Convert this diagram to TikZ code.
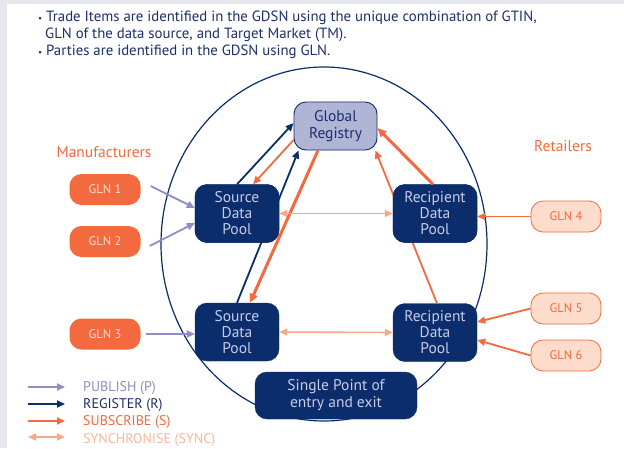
\documentclass[tikz,border=0pt]{standalone}
\usepackage{fontspec}
\setmainfont{PT Sans}
\usetikzlibrary{arrows.meta}
\definecolor{navy}{HTML}{0B2D6B}
\definecolor{navytext}{HTML}{1B2F6B}
\definecolor{pooltext}{HTML}{C8CCE8}
\definecolor{grfill}{HTML}{B0B5D6}
\definecolor{orng}{HTML}{F26A3D}
\definecolor{orngtext}{HTML}{FCE0D5}
\definecolor{salmonfill}{HTML}{FDDCCB}
\definecolor{peri}{HTML}{8C90C2}
\definecolor{sync}{HTML}{F7A888}
\definecolor{synctext}{HTML}{F9B79C}
\definecolor{stripc}{HTML}{E6E6EF}
\tikzset{
  pool/.style={draw=navy, fill=navy, rounded corners=12pt, minimum width=84pt, minimum height=58pt,
    text=pooltext, font=\fontsize{15.5}{16}\selectfont, align=center, inner sep=0pt},
  grbox/.style={draw=navy, line width=0.9pt, fill=grfill, rounded corners=12pt, minimum width=83pt, minimum height=48pt,
    text=navytext, font=\fontsize{15.5}{17}\selectfont, align=center, inner sep=0pt},
  spbox/.style={draw=navy, fill=navy, rounded corners=12pt, minimum width=162pt, minimum height=47pt,
    text=pooltext, font=\fontsize{15.5}{17}\selectfont, align=center, inner sep=0pt},
  glnsrc/.style={fill=orng, rounded corners=12pt, minimum width=71pt, minimum height=31pt,
    text=orngtext, font=\fontsize{12.5}{14}\selectfont, inner sep=0pt},
  glnret/.style={draw=orng, line width=0.8pt, fill=salmonfill, rounded corners=12pt, minimum width=70pt, minimum height=31pt,
    text=orng, font=\fontsize{12.5}{14}\selectfont, inner sep=0pt},
  pub/.style={draw=peri, line width=1.8pt, -{Triangle[length=8pt,width=7pt]}},
  reg/.style={draw=navy, line width=1.8pt, -{Triangle[length=8pt,width=7pt]}},
  sub/.style={draw=orng, line width=1.8pt, -{Triangle[length=8pt,width=7pt]}},
  subthick/.style={draw=orng, line width=3pt, -{Triangle[length=9pt,width=8pt]}},
  syn/.style={draw=sync, line width=1.6pt, {Triangle[length=8pt,width=7pt]}-{Triangle[length=8pt,width=7pt]}},
  bullet/.style={anchor=west, text=navytext, font=\fontsize{14.8}{17}\selectfont, inner sep=0pt},
  group/.style={text=orng, font=\fontsize{15.5}{17}\selectfont, inner sep=0pt},
  legtext/.style={anchor=west, font=\fontsize{14}{15}\selectfont, inner sep=0pt}
}
\begin{document}
\begin{tikzpicture}[x=1pt,y=-1pt]
\useasboundingbox (0,0) rectangle (624,448);
\fill[white] (0,0) rectangle (624,448);
\fill[stripc] (0,0) rectangle (624,4);
\fill[stripc] (0,0) rectangle (7,448);

% header text
\node[bullet] (t1) at (38,18) {{\small•} Trade Items are identified in the GDSN using the unique combination of GTIN,};
\node[bullet] (t2) at (45,35) {GLN of the data source, and Target Market (TM).};
\node[bullet] (t3) at (38,52) {{\small•} Parties are identified in the GDSN using GLN.};

% big ellipse
\draw[navy, line width=1.2pt] (324,244) ellipse [x radius=163pt, y radius=177pt];

% nodes
\node[grbox] (gr) at (335.5,126) {Global\\Registry};
\node[pool] (sp1) at (237,213.5) {Source\\Data\\Pool};
\node[pool] (rp1) at (435,213.5) {Recipient\\Data\\Pool};
\node[pool] (sp2) at (237,332) {Source\\Data\\Pool};
\node[pool] (rp2) at (435,332.5) {Recipient\\Data\\Pool};
\node[spbox] (spe) at (336,395.5) {Single Point of\\entry and exit};

\node[glnsrc] (gln1) at (105,189.5) {GLN 1};
\node[glnsrc] (gln2) at (105,241.5) {GLN 2};
\node[glnsrc] (gln3) at (105,334) {GLN 3};
\node[glnret] (gln4) at (566,216.5) {GLN 4};
\node[glnret] (gln5) at (566,308.5) {GLN 5};
\node[glnret] (gln6) at (566,355.5) {GLN 6};

\node[group] (manu) at (104,152) {Manufacturers};
\node[group] (ret) at (563,146) {Retailers};

% connectors passing behind the upper pools
\draw[reg] (sp2.north) -- ([xshift=5pt]gr.south west);
\draw[sub] ([xshift=2pt]rp2.north) -- ([xshift=-2pt]gr.south east);
\draw[subthick] ([xshift=-17.5pt]gr.south) -- ([xshift=13pt]sp2.north);

% redraw upper pools over these lines
\node[pool] at (sp1) {Source\\Data\\Pool};
\node[pool] at (rp1) {Recipient\\Data\\Pool};

\draw[reg] (sp1.north) -- ([yshift=3pt]gr.west);
\draw[sub] ([yshift=-14pt]gr.west) -- ([xshift=16pt]sp1.north);
\draw[subthick] ([xshift=-2pt]rp1.north) -- ([yshift=-2pt]gr.east);
\draw[syn] (sp1.east) -- (rp1.west);
\draw[syn] (sp2.east) -- (rp2.west);

\draw[pub] ([xshift=10pt,yshift=3.5pt]gln1.east) -- ([yshift=5.5pt]sp1.west);
\draw[pub] ([xshift=9pt,yshift=-4.5pt]gln2.east) -- ([yshift=-9.5pt]sp1.west);
\draw[pub] ([xshift=5pt]gln3.east) -- (sp2.west |- gln3.east);

\draw[sub] (gln4.west) -- (rp1.east |- gln4.west);
\draw[sub] (gln5.west) -- ([yshift=10.5pt]rp2.east);
\draw[sub] (gln6.west) -- ([yshift=-7.5pt]rp2.east);

% legend
\coordinate (l1a) at (28,387); \coordinate (l1b) at (65,387);
\coordinate (l2a) at (28,404); \coordinate (l2b) at (65,404);
\coordinate (l3a) at (28,421); \coordinate (l3b) at (65,421);
\coordinate (l4a) at (28,437); \coordinate (l4b) at (65,437);
\draw[pub] (l1a) -- (l1b);
\draw[reg] (l2a) -- (l2b);
\draw[sub] (l3a) -- (l3b);
\draw[syn] (l4a) -- (l4b);
\node[legtext, text=peri] (lt1) at (83,388) {PUBLISH (P)};
\node[legtext, text=navytext] (lt2) at (83,405) {REGISTER (R)};
\node[legtext, text=orng] (lt3) at (83,422) {SUBSCRIBE (S)};
\node[legtext, text=synctext] (lt4) at (83,440) {SYNCHRONISE (SYNC)};
\end{tikzpicture}
\end{document}
